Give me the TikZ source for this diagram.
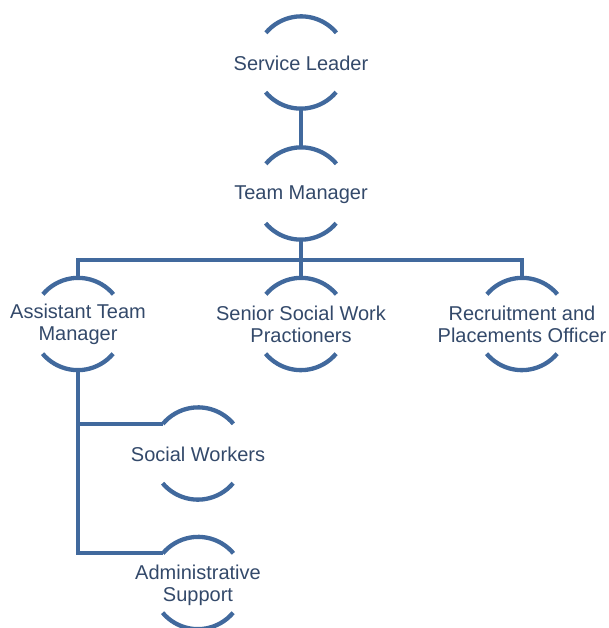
\documentclass[tikz,border=0pt]{standalone}
\usepackage{fontspec}
\setmainfont{Liberation Sans}
\definecolor{linec}{HTML}{41699D}
\definecolor{textc}{HTML}{33496A}
\begin{document}
\begin{tikzpicture}[x=1pt,y=-1pt,
  conn/.style={draw=linec,line width=4.3pt},
  ring/.style={circle,minimum size=92pt,inner sep=0pt,draw=none},
  lbl/.style={text=textc,align=center,font=\fontsize{20}{22}\selectfont,inner sep=0pt},
  arcs/.style={draw=linec,line width=4.3pt}]
\useasboundingbox (0,0) rectangle (608,628);
% circles (invisible) and labels
\node[ring] (sl) at (301,62.5) {};
\node[lbl] (slt) at ([yshift=-1pt]sl) {Service Leader};
\node[ring] (tm) at (301,193.5) {};
\node[lbl] (tmt) at ([yshift=-1pt]tm) {Team Manager};
\node[ring] (atm) at (78,324) {};
\node[lbl] (atmt) at (atm) {Assistant Team\\Manager};
\node[ring] (ssw) at (301,324) {};
\node[lbl] (sswt) at (ssw) {Senior Social Work\\Practioners};
\node[ring] (rpo) at (522,324) {};
\node[lbl] (rpot) at (rpo) {Recruitment and\\Placements Officer};
\node[ring] (sw) at (198,453.5) {};
\node[lbl] (swt) at ([yshift=-1pt]sw) {Social Workers};
\node[ring] (adm) at (198,583) {};
\node[lbl] (admt) at ([yshift=-2pt]adm) {Administrative\\Support};
% arcs
\foreach \n in {sl,tm,atm,ssw,rpo,sw,adm}{
  \draw[arcs] (\n.40) arc[start angle=40,end angle=140,radius=46pt];
  \draw[arcs] (\n.220) arc[start angle=220,end angle=320,radius=46pt];
}
% connectors
\coordinate (bus) at (301,260);
\draw[conn] (sl.south) -- (tm.north);
\draw[conn] (tm.south) -- (bus);
\draw[conn] (bus) -- (ssw.north);
\draw[conn] (bus) -| (atm.north);
\draw[conn] (bus) -| (rpo.north);
\draw[conn] (atm.south) |- (sw.140);
\draw[conn] (atm.south) |- (adm.140);
\end{tikzpicture}
\end{document}
